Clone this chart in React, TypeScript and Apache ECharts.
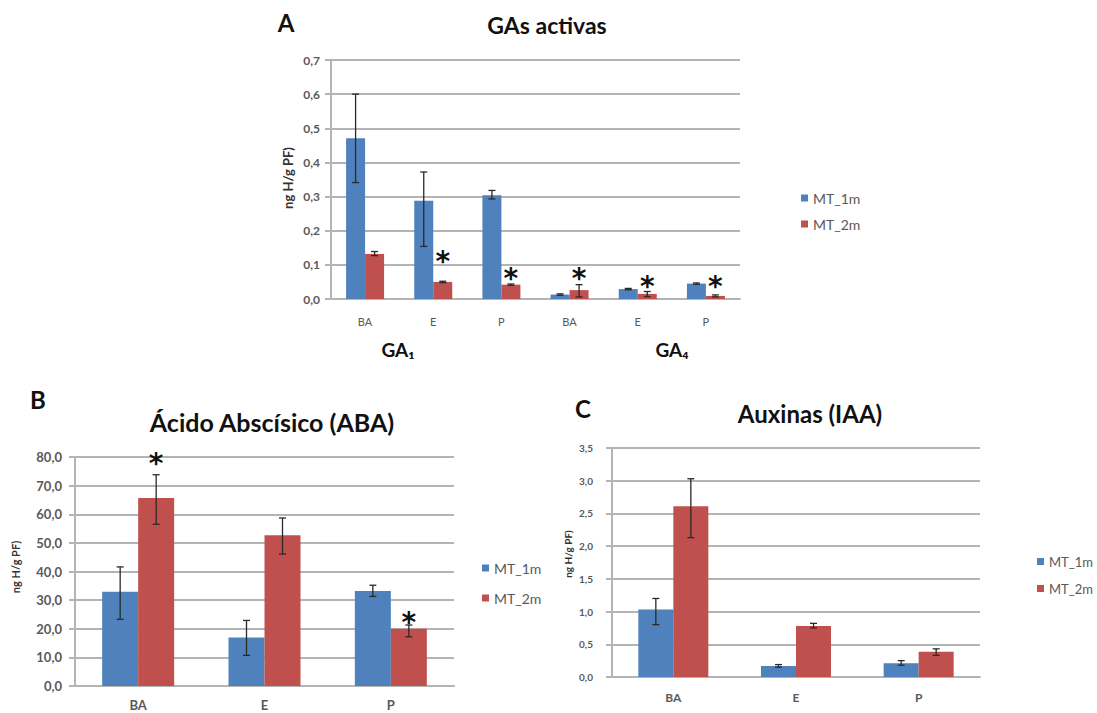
import React, { useEffect, useRef } from "react";
import * as echarts from "echarts";

// ---------- DATA ----------
const categoriesA = ["BA", "E", "P", "BA", "E", "P"];
const mt1A = [0.471, 0.288, 0.304, 0.013, 0.029, 0.045];
const mt1ALow = [0.341, 0.154, 0.293, 0.011, 0.027, 0.043];
const mt1AHigh = [0.6, 0.372, 0.318, 0.015, 0.031, 0.047];
const mt2A = [0.132, 0.05, 0.042, 0.026, 0.015, 0.009];
const mt2ALow = [0.127, 0.048, 0.04, 0.006, 0.007, 0.006];
const mt2AHigh = [0.139, 0.052, 0.044, 0.042, 0.022, 0.012];
const starsA = [null, 0.13, 0.08, 0.08, 0.057, 0.057];

const categoriesB = ["BA", "E", "P"];
const mt1B = [32.9, 16.9, 33.2];
const mt1BLow = [23.3, 10.7, 31.3];
const mt1BHigh = [41.6, 22.9, 35.2];
const mt2B = [65.7, 52.7, 20.0];
const mt2BLow = [56.5, 46.1, 17.2];
const mt2BHigh = [73.8, 58.7, 21.3];
const starsB = [80.1, null, 24.8];

const categoriesC = ["BA", "E", "P"];
const mt1C = [1.03, 0.17, 0.21];
const mt1CLow = [0.8, 0.15, 0.18];
const mt1CHigh = [1.2, 0.19, 0.25];
const mt2C = [2.61, 0.78, 0.385];
const mt2CLow = [2.13, 0.75, 0.33];
const mt2CHigh = [3.03, 0.82, 0.43];

const seriesNames = ["MT_1m", "MT_2m"];
const yLabel = "ng H/g PF)";

const BLUE = "#4F81BD";
const RED = "#C0504D";
const GRID = "#b4b4b4";
const TXT = "#595959";
const FONT = "Lato, 'Open Sans', sans-serif";

function fmt(v: number) {
  return v.toFixed(1).replace(".", ",");
}

function errSeries(idx: number, low: number[], high: number[], bw: number, side: number) {
  return {
    type: "custom",
    xAxisIndex: idx,
    yAxisIndex: idx,
    silent: true,
    z: 5,
    encode: { x: 0, y: [1, 2] },
    data: low.map((l, i) => [i, l, high[i]]),
    renderItem: (params: any, api: any) => {
      const c = api.value(0);
      const x = api.coord([c, 0])[0] + side * bw / 2;
      const yl = api.coord([c, api.value(1)])[1];
      const yh = api.coord([c, api.value(2)])[1];
      const cap = 3.5;
      const st = { stroke: "#2a2a2a", lineWidth: 1.3 };
      return {
        type: "group",
        children: [
          { type: "line", shape: { x1: x, y1: yl, x2: x, y2: yh }, style: st },
          { type: "line", shape: { x1: x - cap, y1: yl, x2: x + cap, y2: yl }, style: st },
          { type: "line", shape: { x1: x - cap, y1: yh, x2: x + cap, y2: yh }, style: st },
        ],
      };
    },
  };
}

function starSeries(idx: number, stars: (number | null)[], bw: number) {
  return {
    type: "custom",
    xAxisIndex: idx,
    yAxisIndex: idx,
    silent: true,
    z: 6,
    encode: { x: 0, y: 1 },
    data: stars.map((s, i) => (s == null ? [i, "-"] : [i, s])),
    renderItem: (params: any, api: any) => {
      const c = api.value(0);
      const v = api.value(1);
      if (v == null || isNaN(v)) return null;
      const p = api.coord([c, v]);
      return {
        type: "text",
        x: p[0] + bw / 2,
        y: p[1] + 7,
        style: {
          text: "*",
          fontSize: 28,
          fontWeight: "bold",
          fontFamily: "'DejaVu Sans', sans-serif",
          fill: "#111",
          align: "center",
          verticalAlign: "middle",
        },
      };
    },
  };
}

function barPair(idx: number, a: number[], b: number[], bw: number) {
  return [
    {
      name: seriesNames[0],
      type: "bar",
      xAxisIndex: idx,
      yAxisIndex: idx,
      data: a,
      barWidth: bw,
      barGap: "0%",
      itemStyle: { color: BLUE },
    },
    {
      name: seriesNames[1],
      type: "bar",
      xAxisIndex: idx,
      yAxisIndex: idx,
      data: b,
      barWidth: bw,
      barGap: "0%",
      itemStyle: { color: RED },
    },
  ];
}

function yAxisCfg(idx: number, max: number, interval: number, margin: number, fontSize: number) {
  return {
    type: "value",
    gridIndex: idx,
    min: 0,
    max,
    interval,
    axisLine: { show: true, lineStyle: { color: GRID, width: 2 } },
    axisTick: { show: true, length: 6, lineStyle: { color: GRID, width: 2 } },
    splitLine: { show: true, lineStyle: { color: GRID, width: 2 } },
    axisLabel: {
      formatter: (v: number) => fmt(v),
      color: TXT,
      fontSize,
      fontWeight: "bold",
      fontFamily: FONT,
      margin,
    },
  };
}

function xAxisCfg(idx: number, cats: string[], fontSize: number, margin: number, weight: string) {
  return {
    type: "category",
    gridIndex: idx,
    data: cats,
    axisLine: { show: true, lineStyle: { color: GRID, width: 2 } },
    axisTick: { show: false },
    axisLabel: { color: TXT, fontSize, fontFamily: FONT, fontWeight: weight, margin },
  };
}

function txt(x: number, y: number, text: string, size: number, extra: any = {}) {
  return {
    type: "text",
    x,
    y,
    silent: true,
    ...extra,
    style: {
      text,
      fontSize: size,
      fontWeight: "bold",
      fontFamily: FONT,
      fill: "#111",
      align: "center",
      verticalAlign: "middle",
      ...(extra.style || {}),
    },
  };
}

export default function App() {
  const ref = useRef<HTMLDivElement>(null);
  useEffect(() => {
    document.body.style.margin = "0";
    const chart = echarts.init(ref.current!, undefined, { renderer: "svg" });
    const bwA = 19, bwB = 36, bwC = 35;
    const legendBase = {
      data: seriesNames,
      orient: "vertical",
      icon: "rect",
      itemWidth: 7,
      itemHeight: 7,
    };
    chart.setOption({
      animation: false,
      backgroundColor: "#fff",
      grid: [
        { left: 331, top: 60, width: 409, height: 239 },
        { left: 75, top: 457, width: 379, height: 229 },
        { left: 612, top: 448, width: 368, height: 229 },
      ],
      xAxis: [
        xAxisCfg(0, categoriesA, 11, 17, "normal"),
        xAxisCfg(1, categoriesB, 13, 12, "bold"),
        xAxisCfg(2, categoriesC, 12, 14, "bold"),
      ],
      yAxis: [
        yAxisCfg(0, 0.7, 0.1, 11, 12),
        yAxisCfg(1, 80, 10, 13, 13),
        yAxisCfg(2, 3.5, 0.5, 19, 10),
      ],
      legend: [
        { ...legendBase, left: 796, top: 186, itemGap: 12, textStyle: { color: TXT, fontSize: 14, fontFamily: FONT } },
        { ...legendBase, left: 477, top: 556, itemGap: 16, textStyle: { color: TXT, fontSize: 14, fontFamily: FONT } },
        { ...legendBase, left: 1032, top: 550, itemGap: 14, textStyle: { color: TXT, fontSize: 13, fontFamily: FONT } },
      ],
      series: [
        ...barPair(0, mt1A, mt2A, bwA),
        ...barPair(1, mt1B, mt2B, bwB),
        ...barPair(2, mt1C, mt2C, bwC),
        errSeries(0, mt1ALow, mt1AHigh, bwA, -1),
        errSeries(0, mt2ALow, mt2AHigh, bwA, 1),
        errSeries(1, mt1BLow, mt1BHigh, bwB, -1),
        errSeries(1, mt2BLow, mt2BHigh, bwB, 1),
        errSeries(2, mt1CLow, mt1CHigh, bwC, -1),
        errSeries(2, mt2CLow, mt2CHigh, bwC, 1),
        starSeries(0, starsA, bwA),
        starSeries(1, starsB, bwB),
      ],
      graphic: [
        txt(286, 22, "A", 24),
        txt(547, 25, "GAs activas", 23),
        txt(398, 349, "GA₁", 19),
        txt(672, 349, "GA₄", 19),
        txt(38, 399, "B", 24),
        txt(272, 422, "Ácido Abscísico (ABA)", 25),
        txt(583, 408, "C", 24),
        txt(810, 413, "Auxinas (IAA)", 24),
        txt(288, 178, yLabel, 13, { rotation: Math.PI / 2, style: { fill: "#333" } }),
        txt(15, 567, yLabel, 11, { rotation: Math.PI / 2, style: { fill: "#333" } }),
        txt(568, 554, yLabel, 10, { rotation: Math.PI / 2, style: { fill: "#333" } }),
      ],
    });
    return () => chart.dispose();
  }, []);
  return <div ref={ref} style={{ width: 1097, height: 713 }} />;
}
